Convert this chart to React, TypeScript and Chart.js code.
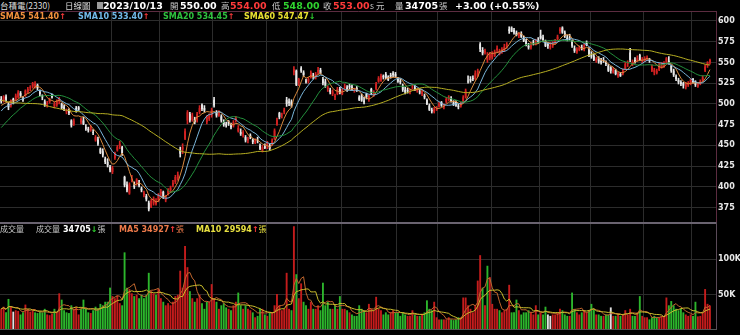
import React, { useEffect, useRef } from 'react';
import { Chart, registerables } from 'chart.js';

Chart.register(...registerables);

// ---------------- data ----------------
const monthLabels = ['2022/07', '2022/08', '2022/09', '2022/10', '2022/11', '2022/12', '2023/01', '2023/02', '2023/03', '2023/04', '2023/05', '2023/06', '2023/07', '2023/08', '2023/09', '2023/10'];
const monthTradingDays = [2, 23, 21, 20, 22, 22, 13, 18, 23, 17, 22, 20, 21, 22, 20, 8];
const firstDividerMonth = '2022/10';
const emptySlotsRight = 2;

const openP = [
  506, 503,
  509, 500, 498, 506, 505, 508, 513, 506, 510, 514, 519, 521, 520, 523, 515, 510, 503, 499, 502, 511, 497, 499, 503,
  500, 497, 490, 492, 480, 475, 495, 496, 478, 480, 472, 470, 468, 466, 456, 457, 446, 443, 434, 430, 424,
  418, 435, 444, 449, 448, 412, 403, 392, 407, 402, 404, 405, 398, 390, 389, 381, 376, 380, 379, 384,
  392, 394, 384, 392, 396, 402, 406, 410, 445, 445, 458, 480, 488, 481, 482, 480, 490, 499, 495, 478, 482, 486,
  505, 490, 486, 485, 478, 476, 479, 474, 473, 480, 467, 466, 462, 460, 456, 462, 457, 453, 456, 450, 444, 449,
  450, 450, 452, 458, 475, 489, 486, 490, 505, 503, 503, 538, 540,
  525, 543, 538, 528, 527, 532, 534, 532, 538, 541, 530, 527, 518, 517, 512, 508, 512, 518,
  512, 520, 520, 522, 521, 516, 519, 508, 510, 504, 512, 506, 518, 510, 518, 527, 528, 534, 536, 533, 535, 537, 536,
  531, 528, 522, 517, 517, 514, 520, 520, 516, 515, 512, 510, 505, 498, 493, 490, 493,
  497, 502, 496, 502, 505, 507, 502, 503, 498, 497, 502, 508, 528, 530, 531, 530, 534, 572, 565, 562, 553, 555,
  556, 558, 565, 561, 563, 565, 570, 590, 592, 589, 586, 582, 585, 580, 576, 570, 568, 574, 572, 577,
  582, 580, 576, 572, 568, 570, 574, 578, 588, 592, 586, 580, 580, 576, 567, 562, 565, 568, 565, 574, 566,
  560, 558, 552, 555, 552, 553, 550, 546, 544, 538, 541, 534, 536, 536, 542, 548, 562, 548, 553, 552, 559, 552,
  552, 554, 553, 540, 538, 537, 541, 544, 545, 550, 552, 546, 540, 533, 529, 526, 525, 520, 523, 524,
  530, 527, 521, 524, 528, 540, 546, 550,
];
const highP = [
  509, 510,
  511, 502, 505, 507, 512, 516, 515, 509, 517, 520, 522, 526, 527, 524, 517, 511, 505, 503, 507, 512, 502, 505, 508,
  501, 499, 494, 494, 481, 482, 497, 497, 483, 484, 475, 472, 474, 469, 462, 460, 447, 446, 436, 434, 426,
  425, 442, 450, 455, 449, 413, 406, 405, 414, 406, 410, 408, 400, 395, 391, 383, 385, 388, 386, 392,
  397, 395, 390, 398, 401, 408, 414, 418, 448, 452, 470, 492, 490, 489, 484, 490, 498, 500, 498, 486, 488, 495,
  508, 492, 492, 487, 481, 478, 480, 477, 480, 485, 474, 470, 468, 462, 460, 464, 458, 458, 460, 452, 450, 452,
  455, 452, 458, 470, 483, 490, 489, 495, 508, 506, 505, 545, 541,
  531, 545, 540, 530, 532, 540, 537, 538, 544, 543, 532, 530, 522, 519, 517, 512, 520, 520,
  518, 524, 522, 524, 523, 519, 521, 510, 512, 508, 513, 511, 519, 516, 526, 533, 536, 535, 538, 534, 537, 539, 538,
  532, 530, 524, 520, 519, 518, 523, 522, 519, 518, 516, 512, 506, 500, 495, 496, 497,
  502, 503, 500, 508, 510, 509, 504, 504, 500, 502, 510, 518, 534, 533, 534, 540, 542, 574, 568, 566, 562, 562,
  563, 565, 570, 566, 568, 572, 574, 593, 593, 591, 588, 586, 587, 582, 578, 573, 574, 577, 578, 580,
  589, 583, 577, 574, 574, 575, 578, 583, 592, 593, 588, 583, 584, 577, 570, 568, 570, 571, 572, 576, 568,
  563, 560, 556, 557, 555, 556, 552, 548, 545, 544, 542, 538, 538, 542, 550, 552, 567, 553, 556, 558, 560, 556,
  557, 558, 555, 547, 543, 542, 549, 550, 551, 556, 557, 547, 542, 535, 531, 528, 526, 526, 527, 530,
  531, 528, 526, 529, 534, 547, 551, 554,
];
const lowP = [
  501, 502,
  503, 493, 496, 500, 504, 507, 508, 503, 509, 513, 516, 519, 519, 517, 510, 505, 497, 496, 501, 507, 495, 497, 500,
  494, 492, 488, 487, 472, 474, 490, 492, 476, 475, 468, 466, 467, 463, 455, 450, 440, 436, 428, 424, 418,
  416, 433, 443, 446, 438, 400, 394, 391, 406, 398, 402, 400, 394, 388, 383, 371, 375, 378, 378, 382,
  388, 386, 382, 390, 393, 400, 404, 408, 436, 440, 457, 476, 478, 479, 476, 478, 488, 492, 490, 476, 480, 484,
  496, 484, 485, 478, 473, 472, 474, 470, 472, 478, 466, 462, 460, 454, 453, 458, 452, 452, 453, 445, 442, 446,
  446, 444, 450, 457, 474, 482, 483, 488, 497, 498, 496, 535, 522,
  522, 538, 533, 525, 525, 531, 530, 530, 536, 536, 523, 520, 515, 512, 510, 505, 511, 512,
  511, 518, 515, 518, 517, 514, 515, 504, 503, 500, 506, 503, 511, 509, 517, 526, 527, 530, 530, 528, 531, 533, 532,
  526, 524, 515, 512, 513, 512, 518, 516, 514, 512, 510, 506, 499, 492, 489, 489, 492,
  496, 497, 494, 501, 504, 502, 498, 497, 494, 496, 501, 507, 525, 526, 528, 529, 533, 563, 559, 560, 550, 553,
  554, 557, 562, 559, 561, 563, 567, 585, 587, 584, 582, 580, 580, 575, 570, 566, 566, 571, 571, 573,
  578, 575, 569, 567, 566, 568, 572, 577, 585, 585, 580, 576, 577, 568, 562, 561, 564, 565, 564, 570, 557,
  555, 552, 550, 549, 548, 550, 546, 539, 537, 537, 535, 532, 533, 535, 541, 545, 551, 546, 549, 551, 552, 550,
  551, 552, 550, 539, 535, 536, 540, 543, 544, 549, 548, 538, 533, 528, 524, 522, 519, 518, 521, 523,
  525, 521, 520, 523, 527, 539, 544, 548,
];
const closeP = [
  503, 509,
  505, 496, 504, 504, 510, 514, 510, 505, 516, 518, 520, 525, 524, 519, 512, 508, 499, 501, 505, 508, 500, 503, 506,
  495, 494, 492, 489, 474, 480, 492, 493, 482, 476, 470, 468, 472, 465, 460, 452, 441, 438, 430, 426, 420,
  423, 441, 448, 452, 440, 402, 396, 403, 410, 400, 409, 402, 396, 393, 385, 373, 383, 386, 382, 390,
  394, 388, 389, 396, 399, 405, 412, 415, 440, 448, 467, 490, 480, 486, 478, 488, 495, 494, 492, 485, 486, 493,
  498, 486, 490, 480, 475, 474, 476, 472, 478, 483, 471, 464, 466, 456, 458, 460, 454, 456, 455, 446, 448, 447,
  453, 446, 456, 468, 481, 484, 487, 493, 500, 501, 498, 542, 523,
  530, 540, 535, 527, 530, 538, 533, 536, 541, 537, 525, 522, 520, 514, 515, 510, 518, 513,
  516, 521, 517, 520, 518, 517, 516, 505, 504, 502, 508, 510, 513, 515, 524, 531, 534, 532, 531, 529, 533, 535, 533,
  527, 526, 517, 514, 515, 516, 521, 517, 518, 514, 515, 508, 500, 493, 491, 494, 495,
  500, 498, 499, 506, 508, 503, 500, 498, 496, 500, 508, 516, 527, 528, 530, 537, 540, 566, 561, 564, 558, 560,
  561, 563, 567, 564, 566, 569, 572, 588, 587, 586, 583, 585, 581, 576, 572, 568, 572, 573, 576, 574,
  579, 577, 570, 570, 570, 573, 576, 581, 590, 586, 582, 578, 579, 570, 564, 566, 568, 566, 570, 571, 559,
  557, 553, 554, 551, 550, 552, 548, 540, 540, 542, 536, 537, 534, 540, 548, 550, 553, 551, 550, 555, 553, 554,
  555, 556, 552, 545, 541, 540, 546, 548, 549, 555, 550, 540, 535, 530, 526, 524, 522, 524, 525, 529,
  526, 523, 524, 527, 532, 545, 550, 553,
];
// volume in thousands of lots (張)
const volumeK = [
  30, 33,
  25, 44, 34, 26, 28, 27, 22, 25, 36, 30, 26, 28, 25, 24, 26, 25, 30, 22, 21, 23, 30, 26, 52,
  43, 28, 25, 24, 35, 30, 33, 22, 30, 43, 30, 25, 24, 28, 33, 30, 37, 35, 40, 40, 60,
  48, 45, 49, 38, 35, 110, 60, 58, 52, 48, 50, 45, 50, 45, 50, 81, 55, 52, 50, 58,
  45, 40, 35, 38, 35, 40, 48, 50, 84, 60, 119, 89, 55, 45, 40, 45, 50, 38, 30, 40, 40, 65,
  45, 40, 30, 35, 38, 32, 30, 28, 35, 40, 53, 35, 30, 35, 30, 28, 25, 18, 20, 30, 30, 22,
  20, 25, 25, 35, 51, 35, 28, 30, 81, 30, 28, 147, 79,
  45, 66, 40, 35, 30, 40, 30, 30, 35, 28, 67, 35, 40, 30, 30, 35, 30, 48,
  30, 30, 28, 25, 22, 20, 20, 35, 30, 28, 25, 37, 30, 28, 47, 30, 28, 22, 25, 22, 25, 28, 25,
  25, 20, 25, 22, 20, 20, 28, 22, 20, 20, 22, 25, 42, 30, 28, 40, 18,
  15, 15, 15, 15, 18, 15, 14, 15, 18, 18, 46, 46, 35, 30, 25, 35, 70, 106, 60, 35, 91, 75,
  37, 30, 30, 28, 25, 28, 30, 64, 25, 25, 43, 28, 22, 25, 25, 28, 25, 22, 35, 22,
  25, 22, 33, 22, 20, 22, 22, 25, 30, 28, 22, 20, 20, 53, 30, 25, 22, 25, 28, 25, 28,
  37, 30, 22, 22, 20, 20, 22, 22, 32, 20, 20, 22, 20, 22, 28, 22, 30, 20, 20, 25, 48, 20,
  18, 18, 15, 18, 20, 18, 18, 20, 20, 46, 35, 41, 35, 30, 28, 30, 25, 22, 20, 22,
  20, 40, 19.305, 20, 24.9, 58, 37.03, 34.705,
];
// closes before the visible window, so the moving averages start where the picture shows them
const warmupCloses = [
  545, 549, 543, 536, 528, 521, 513, 515, 519, 525, 526, 523, 530, 527, 530, 531, 540, 549, 550, 553,
  550, 545, 539, 542, 540, 528, 520, 512, 513, 510, 500, 500, 497, 490, 496, 486, 483, 478, 476, 476,
  446, 435, 446, 433, 450, 460, 458, 456, 461, 470, 475, 485, 480, 490, 493, 501, 496, 493, 498,
];
const priceTicks = [375, 400, 425, 450, 475, 500, 525, 550, 575, 600];
const volumeTicks = [50, 100];
const maPeriods = { sma5: 5, sma10: 10, sma20: 20, sma60: 60 };
const volMaPeriods = { ma5: 5, ma10: 10 };

// ---------------- styles ----------------
const BG = '#000000';
const GRID = '#2c2c2c';
const UP = '#d42222';
const DOWN = '#e8e8e8';
const VUP = '#c41c1c';
const VDOWN = '#2cb52c';
const VFLAT = '#e0e0e0';
const C_SMA5 = '#d9893c';
const C_SMA10 = '#7ab6da';
const C_SMA20 = '#23903c';
const C_SMA60 = '#b6ae22';
const C_VMA5 = '#c0662e';
const C_VMA10 = '#c9bc2c';
const FONT = "'DejaVu Sans', Verdana, sans-serif";
const CJK = "'Noto Sans CJK TC', 'DejaVu Sans', sans-serif";

function makeBorderPlugin(id: string, lines: { side: string; color: string; width?: number }[]) {
  return {
    id,
    afterDraw(chart: any) {
      const { ctx, chartArea: a } = chart;
      ctx.save();
      for (const l of lines) {
        const w = l.width || 1;
        ctx.strokeStyle = l.color;
        ctx.lineWidth = w;
        ctx.beginPath();
        if (l.side === 'top') { ctx.moveTo(a.left, a.top + w / 2); ctx.lineTo(a.right + 1, a.top + w / 2); }
        if (l.side === 'bottom') { ctx.moveTo(a.left, a.bottom - w / 2); ctx.lineTo(a.right + 1, a.bottom - w / 2); }
        if (l.side === 'right') { ctx.moveTo(a.right + 0.5, a.top); ctx.lineTo(a.right + 0.5, a.bottom); }
        ctx.stroke();
      }
      ctx.restore();
    },
  };
}

type TProps = { x: number; y: number; size?: number; color?: string; bold?: boolean; cjk?: boolean; children: React.ReactNode };
const T = ({ x, y, size = 10, color = '#fff', bold = true, cjk = false, children }: TProps) => (
  <span
    style={{
      position: 'absolute', left: x, top: y, fontSize: size, lineHeight: `${size + 2}px`, color,
      fontWeight: bold ? 700 : 400, fontFamily: cjk ? CJK : FONT, whiteSpace: 'pre', zIndex: 2,
    }}
  >
    {children}
  </span>
);

export default function App() {
  const priceRef = useRef<HTMLCanvasElement>(null);
  const volRef = useRef<HTMLCanvasElement>(null);

  useEffect(() => {
    document.body.style.margin = '0';
    document.body.style.background = BG;

    const labels: string[] = [];
    const dividers = new Set<number>();
    let dividerOn = false;
    monthLabels.forEach((m, mi) => {
      if (m === firstDividerMonth) dividerOn = true;
      if (dividerOn) dividers.add(labels.length);
      for (let d = 1; d <= monthTradingDays[mi]; d++) labels.push(`${m}#${d}`);
    });
    for (let e = 0; e < emptySlotsRight; e++) labels.push(' '.repeat(e + 1));

    const all = warmupCloses.concat(closeP);
    const w0 = warmupCloses.length;
    const sma = (p: number) => closeP.map((_, i) => {
      const end = w0 + i;
      const start = Math.max(0, end - p + 1);
      let s = 0;
      for (let k = start; k <= end; k++) s += all[k];
      return s / (end - start + 1);
    });
    const vma = (p: number) => volumeK.map((_, i) => {
      const start = Math.max(0, i - p + 1);
      let s = 0;
      for (let k = start; k <= i; k++) s += volumeK[k];
      return s / (i - start + 1);
    });

    const candleColor = closeP.map((c, i) => (c > openP[i] ? UP : DOWN));
    const bodies = closeP.map((c, i) => {
      const lo = Math.min(c, openP[i]);
      let hi = Math.max(c, openP[i]);
      if (hi - lo < 0.8) hi = lo + 0.8;
      return [lo, hi];
    });
    const wicks = lowP.map((l, i) => [l, highP[i]]);
    const prevClose = (i: number) => (i === 0 ? warmupCloses[w0 - 1] : closeP[i - 1]);
    const volColor = closeP.map((c, i) => (c > prevClose(i) ? VUP : c < prevClose(i) ? VDOWN : VFLAT));

    const xScale = {
      type: 'category',
      offset: true,
      grid: {
        offset: true,
        drawTicks: false,
        color: (c: any) => (dividers.has(c.index) ? GRID : 'rgba(0,0,0,0)'),
      },
      border: { display: false },
      ticks: { display: false, autoSkip: false },
      afterFit: (s: any) => { s.height = 0; s.paddingLeft = 0; s.paddingRight = 0; },
    };
    const tickFont = { family: FONT, size: 8, weight: 'bold' as const };

    const line = (label: string, data: number[], color: string) => ({
      type: 'line' as const, label, data, borderColor: color, borderWidth: 1, pointRadius: 0,
      tension: 0, order: 0, fill: false,
    });

    const priceChart = new Chart(priceRef.current!, {
      type: 'bar',
      data: {
        labels,
        datasets: [
          line('SMA60', sma(maPeriods.sma60), C_SMA60),
          line('SMA20', sma(maPeriods.sma20), C_SMA20),
          line('SMA10', sma(maPeriods.sma10), C_SMA10),
          line('SMA5', sma(maPeriods.sma5), C_SMA5),
          { type: 'bar', label: 'wick', data: wicks as any, backgroundColor: candleColor, barThickness: 1, grouped: false, order: 3, borderWidth: 0 } as any,
          { type: 'bar', label: 'body', data: bodies as any, backgroundColor: candleColor, barPercentage: 0.75, categoryPercentage: 1, grouped: false, order: 2, borderWidth: 0 } as any,
        ],
      },
      options: {
        animation: false,
        responsive: false,
        maintainAspectRatio: false,
        events: [],
        layout: { padding: 0, autoPadding: false } as any,
        plugins: { legend: { display: false }, tooltip: { enabled: false } },
        scales: {
          x: xScale as any,
          y: {
            position: 'right',
            min: 357.7,
            max: 612,
            afterBuildTicks: (s: any) => { s.ticks = priceTicks.map((v) => ({ value: v })); },
            afterFit: (s: any) => { s.width = 24; s.paddingTop = 0; s.paddingBottom = 0; },
            grid: { color: GRID, drawTicks: false },
            border: { display: false },
            ticks: { color: '#e8e8e8', font: tickFont, padding: 2, callback: (v: any) => String(v) },
          },
        },
      },
      plugins: [makeBorderPlugin('priceBorder', [
        { side: 'top', color: '#5c2c40' },
        { side: 'right', color: '#5c2c40' },
      ])],
    });

    const volChart = new Chart(volRef.current!, {
      type: 'bar',
      data: {
        labels,
        datasets: [
          line('MA10', vma(volMaPeriods.ma10), C_VMA10),
          line('MA5', vma(volMaPeriods.ma5), C_VMA5),
          { type: 'bar', label: 'vol', data: volumeK, backgroundColor: volColor, barPercentage: 0.78, categoryPercentage: 1, order: 2, borderWidth: 0 } as any,
        ],
      },
      options: {
        animation: false,
        responsive: false,
        maintainAspectRatio: false,
        events: [],
        layout: { padding: 0, autoPadding: false } as any,
        plugins: { legend: { display: false }, tooltip: { enabled: false } },
        scales: {
          x: xScale as any,
          y: {
            position: 'right',
            min: 0,
            max: 153,
            afterBuildTicks: (s: any) => { s.ticks = volumeTicks.map((v) => ({ value: v })); },
            afterFit: (s: any) => { s.width = 24; s.paddingTop = 0; s.paddingBottom = 0; },
            grid: { color: GRID, drawTicks: false },
            border: { display: false },
            ticks: { color: '#e8e8e8', font: tickFont, padding: 2, callback: (v: any) => `${v}K` },
          },
        },
      },
      plugins: [makeBorderPlugin('volBorder', [
        { side: 'top', color: '#6a6370', width: 2 },
        { side: 'right', color: '#5a4a58' },
        { side: 'bottom', color: '#555555' },
      ])],
    });

    return () => { priceChart.destroy(); volChart.destroy(); };
  }, []);

  const gray = '#c8c8c8';
  const red = '#ff3a3a';
  const green = '#2fd22f';
  return (
    <div style={{ position: 'fixed', left: 0, top: 0, width: 740, height: 335, background: BG, overflow: 'hidden' }}>
      <canvas ref={priceRef} width={740} height={211} style={{ position: 'absolute', left: 0, top: 11, width: 740, height: 211 }} />
      <canvas ref={volRef} width={740} height={108} style={{ position: 'absolute', left: 0, top: 222, width: 740, height: 108 }} />

      {/* header row */}
      <T x={0} y={0} size={8.5} color="#dcdcdc" bold={false} cjk>台積電(2330)</T>
      <T x={65} y={0} size={8.5} color="#dcdcdc" bold={false} cjk>日線圖</T>
      <div style={{ position: 'absolute', left: 97, top: 2, width: 6, height: 7, background: '#9a9a9a', zIndex: 2 }} />
      <T x={103} y={0} size={9.5}>2023/10/13</T>
      <T x={170} y={0} size={8.5} color={gray} bold={false} cjk>開</T>
      <T x={180} y={0} size={9.5}>550.00</T>
      <T x={221} y={0} size={8.5} color={gray} bold={false} cjk>高</T>
      <T x={230} y={0} size={9.5} color={red}>554.00</T>
      <T x={272} y={0} size={8.5} color={gray} bold={false} cjk>低</T>
      <T x={283} y={0} size={9.5} color={green}>548.00</T>
      <T x={323} y={0} size={8.5} color={gray} bold={false} cjk>收</T>
      <T x={333} y={0} size={9.5} color={red}>553.00</T>
      <T x={370} y={0} size={8.5} color={gray} bold={false} cjk>s 元</T>
      <T x={395} y={0} size={8.5} color={gray} bold={false} cjk>量</T>
      <T x={405} y={0} size={9.5}>34705</T>
      <T x={439} y={0} size={8.5} color={gray} bold={false} cjk>張</T>
      <T x={455} y={0} size={9.5}>+3.00 (+0.55%)</T>

      {/* moving-average legend */}
      <T x={0} y={12} size={8} color="#f0903c">SMA5 541.40<span style={{ color: red }}>↑</span></T>
      <T x={78} y={12} size={8} color="#72baea">SMA10 533.40<span style={{ color: red }}>↑</span></T>
      <T x={163} y={12} size={8} color="#2ec23e">SMA20 534.45<span style={{ color: red }}>↑</span></T>
      <T x={244} y={12} size={8} color="#e8e030">SMA60 547.47<span style={{ color: green }}>↓</span></T>

      {/* volume legend */}
      <T x={0} y={224} size={8} color={gray} bold={false} cjk>成交量</T>
      <T x={36} y={224} size={8} color={gray} bold={false} cjk>成交量</T>
      <T x={63} y={224} size={8} color="#ffffff">34705<span style={{ color: green }}>↓</span><span style={{ color: gray, fontWeight: 400, fontFamily: CJK }}>張</span></T>
      <T x={119} y={224} size={8} color="#ee7a4a">MA5 34927<span style={{ color: red }}>↑</span><span style={{ fontWeight: 400, fontFamily: CJK }}>張</span></T>
      <T x={196} y={224} size={8} color="#e8e040">MA10 29594<span style={{ color: red }}>↑</span><span style={{ fontWeight: 400, fontFamily: CJK }}>張</span></T>
    </div>
  );
}
